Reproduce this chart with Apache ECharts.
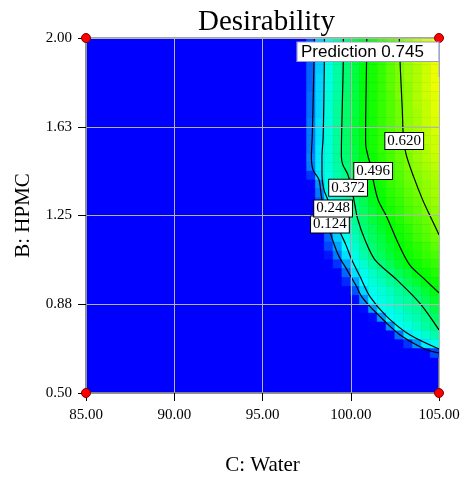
<!DOCTYPE html>
<html lang="en">
<head>
<meta charset="UTF-8">
<title>Desirability</title>
<script src="https://cdn.jsdelivr.net/npm/echarts@6/dist/echarts.min.js"></script>
<style>html,body{margin:0;padding:0;background:#fff;}</style>
</head>
<body>
<div id="main" style="width:467px;height:479px;"></div>
<script>
// axis ticks (C: Water, B: HPMC)
var xTicks = [85, 90, 95, 100, 105];
var yTicks = [0.5, 0.875, 1.25, 1.625, 2.0];

// desirability surface: cells of 0.5 x 0.0375,
// rows from the top (B = 2.00) downwards, columns from C = 97.5 to 105.
// cells not listed are 0 (blue)
var cellW = 0.5, cellH = 0.0375, firstCol = 97.5, topRow = 2.0;
var desirRows = [
    [0.09,0.20,0.28,0.34,0.39,0.44,0.48,0.52,0.56,0.59,0.62,0.65,0.68,0.71,0.73],
    [0.09,0.20,0.28,0.34,0.39,0.44,0.48,0.52,0.55,0.59,0.62,0.65,0.68,0.70,0.73],
    [0.10,0.20,0.28,0.34,0.39,0.44,0.48,0.52,0.55,0.59,0.62,0.65,0.68,0.70,0.73],
    [0.10,0.20,0.28,0.34,0.39,0.44,0.49,0.52,0.55,0.59,0.62,0.65,0.67,0.70,0.73],
    [0.10,0.21,0.28,0.34,0.39,0.44,0.49,0.52,0.55,0.59,0.62,0.65,0.67,0.70,0.73],
    [0.10,0.21,0.28,0.34,0.39,0.44,0.49,0.52,0.55,0.59,0.62,0.64,0.67,0.70,0.73],
    [0.11,0.21,0.29,0.34,0.40,0.44,0.49,0.52,0.55,0.58,0.62,0.64,0.67,0.70,0.72],
    [0.11,0.21,0.29,0.35,0.40,0.44,0.49,0.52,0.55,0.58,0.61,0.64,0.67,0.69,0.72],
    [0.11,0.21,0.29,0.35,0.40,0.44,0.49,0.52,0.55,0.58,0.61,0.64,0.66,0.69,0.72],
    [0.12,0.22,0.29,0.35,0.40,0.45,0.49,0.52,0.55,0.58,0.61,0.64,0.66,0.69,0.71],
    [0.12,0.22,0.29,0.35,0.40,0.45,0.49,0.52,0.55,0.58,0.61,0.64,0.66,0.68,0.71],
    [0.12,0.22,0.29,0.35,0.40,0.45,0.49,0.52,0.55,0.58,0.61,0.63,0.66,0.68,0.70],
    [0.12,0.23,0.29,0.35,0.40,0.44,0.49,0.52,0.55,0.57,0.60,0.63,0.65,0.67,0.70],
    [0.13,0.23,0.29,0.35,0.39,0.44,0.48,0.51,0.54,0.57,0.60,0.62,0.65,0.67,0.69],
    [0.12,0.23,0.29,0.34,0.38,0.43,0.47,0.51,0.53,0.56,0.59,0.62,0.64,0.66,0.68],
    [0.05,0.22,0.28,0.33,0.37,0.41,0.46,0.50,0.53,0.55,0.58,0.61,0.63,0.65,0.67],
    [0,0.15,0.28,0.32,0.36,0.40,0.45,0.49,0.52,0.55,0.57,0.60,0.62,0.64,0.66],
    [0,0.12,0.27,0.31,0.35,0.39,0.44,0.48,0.51,0.54,0.56,0.59,0.61,0.64,0.66],
    [0,0.09,0.25,0.29,0.33,0.38,0.42,0.47,0.50,0.53,0.55,0.58,0.60,0.63,0.65],
    [0,0.06,0.20,0.28,0.32,0.37,0.41,0.45,0.49,0.52,0.54,0.57,0.59,0.62,0.64],
    [0,0.03,0.16,0.26,0.31,0.36,0.40,0.44,0.47,0.51,0.53,0.56,0.58,0.60,0.63],
    [0,0.01,0.13,0.24,0.29,0.34,0.39,0.42,0.46,0.49,0.52,0.54,0.57,0.59,0.62],
    [0,0,0.10,0.20,0.27,0.32,0.37,0.41,0.44,0.48,0.51,0.53,0.56,0.58,0.61],
    [0,0,0.07,0.16,0.25,0.30,0.35,0.39,0.43,0.46,0.50,0.52,0.54,0.56,0.59],
    [0,0,0.02,0.12,0.22,0.28,0.33,0.38,0.41,0.45,0.48,0.51,0.53,0.55,0.57],
    [0,0,0,0.05,0.16,0.26,0.30,0.34,0.38,0.42,0.46,0.49,0.51,0.53,0.55],
    [0,0,0,0,0.10,0.22,0.27,0.31,0.34,0.38,0.42,0.45,0.49,0.51,0.53],
    [0,0,0,0,0.04,0.16,0.25,0.29,0.32,0.35,0.38,0.42,0.45,0.49,0.51],
    [0,0,0,0,0,0.08,0.21,0.27,0.29,0.32,0.35,0.38,0.41,0.45,0.49],
    [0,0,0,0,0,0.01,0.14,0.25,0.28,0.30,0.33,0.35,0.38,0.42,0.46],
    [0,0,0,0,0,0,0.01,0.15,0.26,0.28,0.30,0.33,0.35,0.38,0.43],
    [0,0,0,0,0,0,0,0.01,0.15,0.26,0.28,0.31,0.33,0.36,0.40],
    [0,0,0,0,0,0,0,0,0,0.14,0.26,0.28,0.31,0.34,0.37],
    [0,0,0,0,0,0,0,0,0,0,0.11,0.23,0.27,0.30,0.33],
    [0,0,0,0,0,0,0,0,0,0,0,0.05,0.14,0.23,0.27],
    [0,0,0,0,0,0,0,0,0,0,0,0,0,0,0.07]
];

// contour lines, [C, B]
var contourLevels = [0.124, 0.248, 0.372, 0.496, 0.620];
var contour124 = [[97.94,2.0],[97.91,1.87],[97.82,1.587],[97.77,1.498],[97.86,1.443],[98.2,1.401],[98.34,1.329],[98.54,1.266],[98.82,1.183],[99.1,1.119],[99.38,1.07],[99.67,1.035],[100.05,0.986],[100.33,0.95],[100.61,0.908],[101.08,0.866],[101.55,0.831],[102.12,0.789],[102.78,0.746],[103.53,0.711],[104.29,0.683],[105,0.669]];
var contour248 = [[98.51,2.0],[98.5,1.87],[98.44,1.587],[98.37,1.498],[98.37,1.422],[98.48,1.359],[98.82,1.296],[99.38,1.183],[99.72,1.127],[100.05,1.064],[100.52,0.993],[101.08,0.908],[102.03,0.824],[103.34,0.746],[105,0.686]];
var contour372 = [[99.58,2.0],[99.57,1.87],[99.48,1.587],[99.47,1.498],[99.55,1.465],[99.84,1.422],[100.06,1.359],[100.23,1.296],[100.4,1.233],[100.8,1.148],[101.36,1.064],[102.59,0.98],[103.91,0.88],[105,0.767]];
var contour496 = [[100.91,2.0],[100.89,1.87],[100.84,1.587],[100.85,1.549],[101.0,1.494],[101.14,1.46],[101.27,1.401],[101.55,1.316],[102.03,1.246],[102.68,1.134],[103.34,1.041],[104.19,0.98],[105,0.923]];
var contour620 = [[102.75,2.0],[102.81,1.87],[102.92,1.697],[102.98,1.587],[103.14,1.507],[103.57,1.412],[104.08,1.315],[104.53,1.243],[105,1.169]];
var contourLabelPos = [[98.82,1.212],[99.0,1.28],[99.85,1.367],[101.27,1.438],[103.03,1.565]];

// design points and prediction flag
var designPoints = [[85,0.5],[85,2.0],[105,0.5],[105,2.0]];
var predictionValue = 0.745;

var serif = 'Liberation Serif';

var cells = [];
for (var i = 0; i < desirRows.length; i++) {
    for (var j = 0; j < desirRows[i].length; j++) {
        cells.push([firstCol + j * cellW, topRow - (i + 1) * cellH, desirRows[i][j]]);
    }
}

var contours = [contour124, contour248, contour372, contour496, contour620];
var labelData = contourLevels.map(function (lv, k) {
    return [contourLabelPos[k][0], contourLabelPos[k][1], lv.toFixed(3)];
});

var myChart = echarts.init(document.getElementById('main'));

var series = [{
    type: 'custom',
    clip: true,
    data: cells,
    encode: {x: 0, y: 1},
    renderItem: function (params, api) {
        var x0 = api.value(0), y0 = api.value(1);
        var p0 = api.coord([x0, y0 + cellH]);
        var p1 = api.coord([x0 + cellW, y0]);
        var c = api.visual('color');
        return {
            type: 'rect',
            shape: {x: p0[0], y: p0[1], width: p1[0] - p0[0], height: p1[1] - p0[1]},
            style: {fill: c, stroke: c, lineWidth: 0.6}
        };
    },
    z: 1
}];

contours.forEach(function (line) {
    series.push({
        type: 'line',
        data: line,
        showSymbol: false,
        smooth: 0.3,
        lineStyle: {color: '#000', width: 1.2},
        z: 2
    });
});

// contour value boxes
series.push({
    type: 'scatter',
    data: labelData,
    symbol: 'rect',
    symbolSize: 1,
    itemStyle: {color: 'transparent', opacity: 1},
    label: {
        show: true,
        position: 'inside',
        formatter: function (p) { return p.value[2]; },
        backgroundColor: '#fff',
        borderColor: '#000',
        borderWidth: 1,
        padding: [1, 2, 0, 2],
        fontFamily: serif,
        fontSize: 15,
        color: '#000'
    },
    z: 5
});

series.push({
    type: 'scatter',
    data: designPoints,
    symbolSize: 9,
    clip: false,
    itemStyle: {color: '#ff0000', borderColor: '#7a0000', borderWidth: 1, opacity: 1},
    z: 6
});

myChart.setOption({
    animation: false,
    title: {
        text: 'Desirability',
        left: 193,
        top: 3,
        textStyle: {fontFamily: serif, fontSize: 29, fontWeight: 'normal', color: '#000'}
    },
    grid: {
        left: 86, top: 38, right: 28, bottom: 86,
        outerBoundsMode: 'none',
        show: true,
        backgroundColor: '#0000ff',
        borderColor: '#888',
        borderWidth: 1.5
    },
    visualMap: {
        show: false,
        type: 'continuous',
        seriesIndex: 0,
        dimension: 2,
        min: 0,
        max: 1,
        inRange: {color: ['#0000ff', '#00ffff', '#00ff00', '#ffff00', '#ff0000']}
    },
    xAxis: {
        type: 'value',
        min: xTicks[0],
        max: xTicks[xTicks.length - 1],
        interval: xTicks[1] - xTicks[0],
        name: 'C: Water',
        nameLocation: 'middle',
        nameGap: 62,
        nameTextStyle: {fontFamily: serif, fontSize: 21, color: '#000'},
        z: 3,
        axisLine: {lineStyle: {color: '#888', width: 1.5}},
        axisTick: {length: 8, lineStyle: {color: '#000'}},
        axisLabel: {
            margin: 15, fontFamily: serif, fontSize: 15, color: '#000',
            formatter: function (v) { return v.toFixed(2); }
        },
        splitLine: {show: true, lineStyle: {color: '#b4b4b4', width: 1}}
    },
    yAxis: {
        type: 'value',
        min: yTicks[0],
        max: yTicks[yTicks.length - 1],
        interval: yTicks[1] - yTicks[0],
        name: 'B: HPMC',
        nameLocation: 'middle',
        nameGap: 52,
        nameTextStyle: {fontFamily: serif, fontSize: 21, color: '#000'},
        z: 3,
        axisLine: {lineStyle: {color: '#888', width: 1.5}},
        axisTick: {length: 8, lineStyle: {color: '#000'}},
        axisLabel: {
            margin: 14, fontFamily: serif, fontSize: 15, color: '#000',
            formatter: function (v) { return v.toFixed(2); }
        },
        splitLine: {show: true, lineStyle: {color: '#b4b4b4', width: 1}}
    },
    graphic: [{
        type: 'rect',
        shape: {x: 297, y: 42, width: 142, height: 19.5},
        style: {fill: '#fff', stroke: '#9a9ad8', lineWidth: 1.2},
        z: 100
    }, {
        type: 'line',
        shape: {x1: 439.3, y1: 61.5, x2: 439.3, y2: 77},
        style: {stroke: '#9a9ad8', lineWidth: 1.2},
        z: 100
    }, {
        type: 'text',
        x: 301,
        y: 52,
        style: {
            text: 'Prediction ' + predictionValue.toFixed(3),
            font: '17px "Liberation Sans"',
            fill: '#000',
            verticalAlign: 'middle'
        },
        z: 101
    }],
    series: series
});
</script>
</body>
</html>
